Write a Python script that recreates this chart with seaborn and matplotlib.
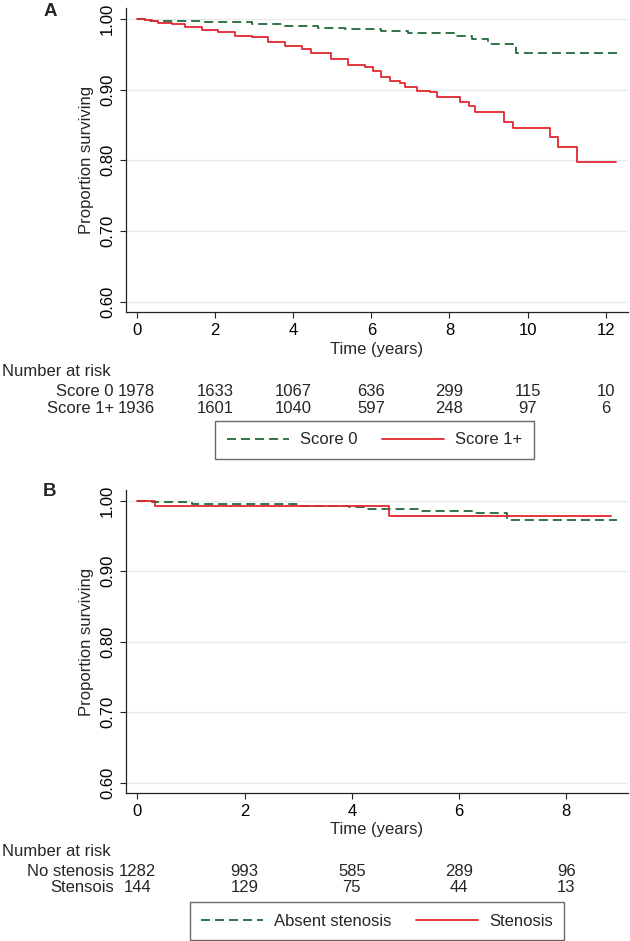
import numpy as np
import pandas as pd
import matplotlib
matplotlib.use("Agg")
import matplotlib.pyplot as plt
import seaborn as sns
from matplotlib.lines import Line2D
from matplotlib.transforms import blended_transform_factory

sns.set_theme(style="white")
plt.rcParams["font.family"] = ["Liberation Sans", "DejaVu Sans"]
plt.rcParams["lines.scale_dashes"] = False

# ---------------- data ----------------
# Panel A: Kaplan-Meier, Score 0 vs Score 1+
a_score0_time = [0, 0.2, 0.35, 1.66, 2.94, 3.79, 4.64, 5.33, 6.24, 6.95, 8.2, 8.57, 9.0, 9.71, 12.29]
a_score0_surv = [1.0, 0.9986, 0.997, 0.9953, 0.9922, 0.990, 0.9877, 0.9854, 0.9835, 0.9797, 0.9764, 0.9717, 0.965, 0.9514, 0.9514]
a_score1_time = [0, 0.2, 0.4, 0.55, 0.89, 1.23, 1.66, 2.08, 2.51, 2.94, 3.36, 3.79, 4.22, 4.47, 4.98,
                 5.4, 5.84, 6.05, 6.26, 6.48, 6.74, 6.87, 7.17, 7.5, 7.67, 8.27, 8.51, 8.66, 9.4, 9.63,
                 10.57, 10.77, 11.26, 12.27]
a_score1_surv = [1.0, 0.9986, 0.9965, 0.9939, 0.9925, 0.989, 0.9844, 0.982, 0.976, 0.974, 0.968, 0.962, 0.957, 0.952, 0.944,
                 0.935, 0.9317, 0.926, 0.9175, 0.9127, 0.909, 0.904, 0.8986, 0.896, 0.890, 0.882, 0.877, 0.868, 0.854, 0.8453,
                 0.8326, 0.8193, 0.798, 0.798]
a_labels = ["Score 0", "Score 1+"]
a_risk_times = [0, 2, 4, 6, 8, 10, 12]
a_risk_score0 = [1978, 1633, 1067, 636, 299, 115, 10]
a_risk_score1 = [1936, 1601, 1040, 597, 248, 97, 6]

# Panel B: Absent stenosis vs Stenosis
b_absent_time = [0, 0.28, 1.02, 2.99, 3.94, 4.28, 5.29, 6.28, 6.90, 8.94]
b_absent_surv = [1.0, 0.9976, 0.9953, 0.993, 0.9906, 0.988, 0.9858, 0.9825, 0.9726, 0.9726]
b_sten_time = [0, 0.33, 4.70, 8.83]
b_sten_surv = [1.0, 0.9931, 0.9778, 0.9778]
b_labels = ["Absent stenosis", "Stenosis"]
b_risk_rowlabels = ["No stenosis", "Stensois"]
b_risk_times = [0, 2, 4, 6, 8]
b_risk_absent = [1282, 993, 585, 289, 96]
b_risk_sten = [144, 129, 75, 44, 13]

y_ticks = [0.60, 0.70, 0.80, 0.90, 1.00]

GREEN = "#21683a"
RED = "#e3262e"
GRID = "#e3ecef"
DASH = (0, (6.5, 3.6))
FS = 12

W, H = 630, 941
fig = plt.figure(figsize=(W / 100, H / 100), dpi=100)


def fx(px):
    return px / W


def fy(py):
    return 1 - py / H


axA = fig.add_axes([fx(126), fy(312.3), (628 - 126) / W, (312.3 - 8.3) / H])
axB = fig.add_axes([fx(126), fy(793.3), (628 - 126) / W, (793.3 - 490) / H])


def style_axes(ax, xlim, xticks):
    ax.set_xlim(*xlim)
    ax.set_ylim(0.585, 1.0151)
    ax.set_xticks(xticks)
    ax.set_xticklabels([str(t) for t in xticks])
    ax.set_yticks(y_ticks)
    ax.set_yticklabels([f"{v:.2f}" for v in y_ticks])
    ax.yaxis.grid(True, color=GRID, lw=1.0)
    ax.xaxis.grid(False)
    ax.set_axisbelow(True)
    for s in ["top", "right"]:
        ax.spines[s].set_visible(False)
    for s in ["left", "bottom"]:
        ax.spines[s].set_color("#222222")
        ax.spines[s].set_linewidth(0.9)
    ax.tick_params(axis="both", direction="out", length=4, width=0.8, color="#222222",
                   labelsize=FS, labelcolor="black", bottom=True, left=True)
    ax.tick_params(axis="x", pad=4)
    ax.tick_params(axis="y", pad=4, labelrotation=90)
    for lab in ax.get_yticklabels():
        lab.set_va("center")
    ax.set_ylabel("Proportion surviving", fontsize=FS, va="center")
    ax.yaxis.set_label_coords(-0.079, 0.5)
    ax.set_xlabel("Time (years)", fontsize=FS, va="center")
    ax.xaxis.set_label_coords(0.5, -0.121)


def draw_curves(ax, t0, s0, t1, s1, names):
    d0 = pd.DataFrame({"time": t0, "surv": s0, "group": names[0]})
    d1 = pd.DataFrame({"time": t1, "surv": s1, "group": names[1]})
    sns.lineplot(data=d0, x="time", y="surv", color=GREEN, linestyle=DASH, lw=1.3,
                 drawstyle="steps-post", estimator=None, sort=False, ax=ax, legend=False)
    sns.lineplot(data=d1, x="time", y="surv", color=RED, lw=1.3,
                 drawstyle="steps-post", estimator=None, sort=False, ax=ax, legend=False)


def risk_table(ax, y_title, y_rows, rowlabels, times, rows):
    tr = blended_transform_factory(ax.transData, fig.transFigure)
    fig.text(fx(2), fy(y_title), "Number at risk", ha="left", va="center", fontsize=FS)
    for yr, lab, vals in zip(y_rows, rowlabels, rows):
        fig.text(fx(114), fy(yr), lab, ha="right", va="center", fontsize=FS)
        for t, n in zip(times, vals):
            fig.text(t, fy(yr), str(n), transform=tr, ha="center", va="center", fontsize=FS)


def legend(names, cx, cy):
    handles = [Line2D([], [], color=GREEN, linestyle=DASH, lw=1.3),
               Line2D([], [], color=RED, lw=1.3)]
    lg = fig.legend(handles, names, loc="center", bbox_to_anchor=(fx(cx), fy(cy)), ncol=2,
                    frameon=True, fancybox=False, edgecolor="#444444", fontsize=FS,
                    handlelength=3.7, handletextpad=0.65, columnspacing=1.5, borderpad=0.7,
                    borderaxespad=0)
    lg.get_frame().set_linewidth(1.0)


# Panel A
draw_curves(axA, a_score0_time, a_score0_surv, a_score1_time, a_score1_surv, a_labels)
style_axes(axA, (-0.276, 12.57), [0, 2, 4, 6, 8, 10, 12])
risk_table(axA, 372, [391, 408], a_labels, a_risk_times, [a_risk_score0, a_risk_score1])
legend(a_labels, 374.5, 440)
fig.text(fx(50), fy(12), "A", ha="center", va="center", fontsize=13.5, weight="bold")

# Panel B
draw_curves(axB, b_absent_time, b_absent_surv, b_sten_time, b_sten_surv, b_labels)
style_axes(axB, (-0.21, 9.15), [0, 2, 4, 6, 8])
risk_table(axB, 852, [871, 888], b_risk_rowlabels, b_risk_times, [b_risk_absent, b_risk_sten])
legend(b_labels, 377, 921)
fig.text(fx(50), fy(491.5), "B", ha="center", va="center", fontsize=13.5, weight="bold")

fig.savefig("out.png", dpi=100)
